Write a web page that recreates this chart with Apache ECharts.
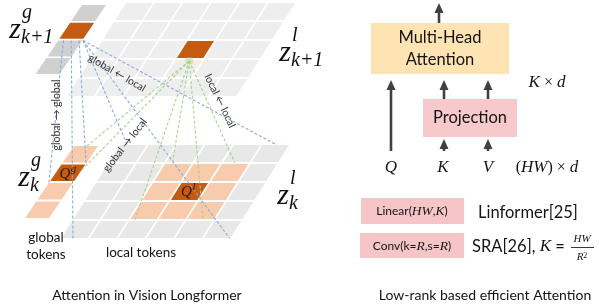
<!DOCTYPE html>
<html>
<head>
<meta charset="utf-8">
<script src="https://cdn.jsdelivr.net/npm/echarts@6/dist/echarts.min.js"></script>
<style>
html,body{margin:0;padding:0;background:#fff;}
#chart{width:599px;height:306px;}
</style>
</head>
<body>
<div id="chart"></div>
<script>
// token grids
const localCols = 6;
const localRows = 5;
const globalCount = 4;
const localQuery = [3, 2];   // Q^l at (col,row)
const localWindow = 1;       // neighbours on each side
const globalQuery = 1;       // Q^g index in the global column

// planes: 0 upper global, 1 upper local, 2 lower global, 3 lower local
// links: [fromPlane, u, v, toPlane, u, v]
const globalLinks = [
    [0, 0.2, 2.0, 2, 0, 2],
    [0, 0.5, 2.0, 3, 0.45, 5],
    [0, 0.8, 2.0, 2, 0.95, 1],
    [0, 0.95, 2.0, 3, 0.25, 0],
    [0, 0.95, 2.0, 3, 5.9, 4.9],
    [0, 0.95, 2.0, 3, 5.5, 0]
];
const localLinks = [
    [1, 3.5, 3.05, 2, 0.5, 0],
    [1, 3.5, 3.05, 2, 0.9, 1.4],
    [1, 3.5, 3.05, 3, 2.18, 3.95],
    [1, 3.5, 3.05, 3, 2.27, 1.05],
    [1, 3.5, 3.05, 3, 4.57, 3.95],
    [1, 3.5, 3.05, 3, 4.43, 0.95]
];

const linkNames = ['global \u2190 local', 'local \u2190 local', 'global \u2192 global', 'global \u2192 local'];
const tokenNames = ['global\ntokens', 'local tokens'];
const captions = ['Attention in Vision Longformer', 'Low-rank based efficient Attention'];
const blockNames = ['Multi-Head\nAttention', 'Projection', 'Linear({m|HW},{m|K})', 'Conv(k={m|R},s={m|R})'];
const inputNames = ['Q', 'K', 'V'];
const shapeNames = ['{m|K} \u00d7 {m|d}', '({m|HW}) \u00d7 {m|d}'];
const methodNames = ['Linformer[25]', 'SRA[26], {m|K} ='];
const zNames = [['g', 'k+1'], ['l', 'k+1'], ['g', 'k'], ['l', 'k']];

// ---- layout ----
const sans = 'Lato, "Open Sans", "DejaVu Sans", sans-serif';
const serif = '"Liberation Serif", "DejaVu Serif", serif';

const planes = [
    {x0: 82, y0: 5, colW: 26, rowH: 17.7, cellW: 24, cellH: 16, slant: 0.67},
    {x0: 126, y0: 3, colW: 28.5, rowH: 19, cellW: 26.5, cellH: 17, slant: 0.63},
    {x0: 74, y0: 146, colW: 26, rowH: 18.5, cellW: 24, cellH: 16.5, slant: 0.68},
    {x0: 120, y0: 145, colW: 28.5, rowH: 19, cellW: 26.5, cellH: 17, slant: 0.63}
];
const cellColors = ['#c55a11', '#f8cbad', '#d0d0d0', '#eeeeee', '#e8e8e8'];

const linkPos = [[117, 73, -30], [220, 101, -64], [57, 115, 90], [125, 145, 52]];
const zPos = [[15, 30], [285, 53], [24, 178], [283, 196]];
const blockBoxes = [[371, 23, 138, 51, '#fde4b2'], [423, 99, 94, 38, '#f8c9cb'], [361, 198, 103, 26, '#f6c5c7'], [360, 233, 104, 25, '#f6c5c7']];
const arrows = [[439, 23, 3], [391, 151, 80], [444, 99, 80], [488, 99, 80], [444, 151, 139], [488, 151, 139]];
const inputX = [391, 443, 488];

function planePoint(p, u, v) {
    const pl = planes[p];
    return [pl.x0 + u * pl.colW - v * pl.rowH * pl.slant, pl.y0 + v * pl.rowH];
}

// cells: [plane, col, row, colorIndex]
const cells = [];
for (let r = 0; r < globalCount; r++) {
    cells.push([0, 0, r, r === globalQuery ? 0 : 2]);
    cells.push([2, 0, r, r === globalQuery ? 0 : 1]);
}
for (let r = 0; r < localRows; r++) {
    for (let c = 0; c < localCols; c++) {
        const isQ = c === localQuery[0] && r === localQuery[1];
        const inWin = Math.abs(c - localQuery[0]) <= localWindow && Math.abs(r - localQuery[1]) <= localWindow;
        cells.push([1, c, r, isQ ? 0 : 3]);
        cells.push([3, c, r, isQ ? 0 : (inWin ? 1 : 4)]);
    }
}

const links = globalLinks.map(l => l.concat([0])).concat(localLinks.map(l => l.concat([1])));

const mathRich = (size) => ({m: {fontFamily: serif, fontStyle: 'italic', fontSize: size}});

// text items
const texts = [];
const addText = (text, x, y, opt) => texts.push(Object.assign({text: text, x: x, y: y}, opt));
addText(captions[0], 147, 295, {size: 14});
addText(captions[1], 485, 295, {size: 14});
addText(tokenNames[0], 46, 246, {size: 13.5, lineHeight: 17});
addText(tokenNames[1], 141, 253, {size: 13.5});
linkNames.forEach((t, i) => addText(t, linkPos[i][0], linkPos[i][1], {size: 10.5, rotate: linkPos[i][2], color: '#333'}));
addText(blockNames[0], 440, 49, {size: 16.5, lineHeight: 22});
addText(blockNames[1], 470, 118, {size: 16.5});
addText(blockNames[2], 412, 211, {size: 12, rich: mathRich(13.5)});
addText(blockNames[3], 412, 246, {size: 12, rich: mathRich(13.5)});
inputNames.forEach((t, i) => addText(t, inputX[i], 168, {size: 17, family: serif, italic: true}));
addText(shapeNames[0], 547, 83, {size: 16, family: serif, rich: mathRich(17)});
addText(shapeNames[1], 547, 168, {size: 16, family: serif, rich: mathRich(17)});
addText(methodNames[0], 478, 213, {size: 16.5, align: 'left'});
addText(methodNames[1], 472, 247, {size: 16.5, align: 'left', rich: {m: {fontFamily: serif, fontStyle: 'italic', fontSize: 17}}});
addText('HW', 582, 239, {size: 11, family: serif, italic: true});
addText('R{s|2}', 582, 257, {size: 11, family: serif, italic: true, rich: {s: {fontFamily: serif, fontSize: 8, verticalAlign: 'top'}}});

const chart = echarts.init(document.getElementById('chart'));

const option = {
    animation: false,
    grid: {left: 0, right: 0, top: 0, bottom: 0},
    xAxis: {type: 'value', min: 0, max: 599, show: false},
    yAxis: {type: 'value', min: 0, max: 306, inverse: true, show: false},
    series: [
        {
            name: 'tokens',
            type: 'custom',
            z: 1,
            data: cells,
            renderItem: (params, api) => {
                const p = api.value(0), c = api.value(1), r = api.value(2);
                const pl = planes[p];
                const du = pl.cellW / pl.colW, dv = pl.cellH / pl.rowH;
                const pts = [[c, r], [c + du, r], [c + du, r + dv], [c, r + dv]]
                    .map(q => api.coord(planePoint(p, q[0], q[1])));
                return {type: 'polygon', shape: {points: pts}, style: {fill: cellColors[api.value(3)]}};
            }
        },
        {
            name: 'attention',
            type: 'custom',
            z: 2,
            data: links,
            renderItem: (params, api) => {
                const a = api.coord(planePoint(api.value(0), api.value(1), api.value(2)));
                const b = api.coord(planePoint(api.value(3), api.value(4), api.value(5)));
                const blue = api.value(6) === 0;
                return {
                    type: 'line',
                    shape: {x1: a[0], y1: a[1], x2: b[0], y2: b[1]},
                    style: {stroke: blue ? '#8eaadb' : '#a9d18e', lineWidth: 1.1, lineDash: [3, 2]}
                };
            }
        },
        {
            name: 'query glow',
            type: 'custom',
            z: 2,
            data: [[localQuery[0], localQuery[1]]],
            renderItem: (params, api) => {
                const c = api.coord(planePoint(1, localQuery[0] + 0.5, localQuery[1] + 1.05));
                return {type: 'circle', shape: {cx: c[0], cy: c[1], r: 4}, style: {fill: 'rgba(169,209,142,0.45)'}};
            }
        },
        {
            name: 'query marks',
            type: 'custom',
            z: 3,
            data: [[1, 3], [3, 2]],
            renderItem: (params, api) => {
                // Q^g and Q^l labels on the query cells
                const isGlobal = params.dataIndex === 0;
                const p = isGlobal ? 2 : 3;
                const c = isGlobal ? 0 : localQuery[0], r = isGlobal ? globalQuery : localQuery[1];
                const pl = planes[p];
                const ctr = api.coord(planePoint(p, c + pl.cellW / pl.colW / 2, r + pl.cellH / pl.rowH / 2));
                return {
                    type: 'group',
                    children: [
                        {type: 'text', x: ctr[0] - 3, y: ctr[1] + 1, style: {text: 'Q', fontFamily: serif, fontStyle: 'italic', fontSize: 15, fill: '#2a1a10', align: 'center', verticalAlign: 'middle'}},
                        {type: 'text', x: ctr[0] + 3, y: ctr[1] - 4, style: {text: isGlobal ? 'g' : 'l', fontFamily: serif, fontStyle: 'italic', fontSize: 11, fill: '#2a1a10', align: 'left', verticalAlign: 'middle'}}
                    ]
                };
            }
        },
        {
            name: 'blocks',
            type: 'custom',
            z: 1,
            data: blockBoxes.map(b => [b[0], b[1]]),
            renderItem: (params, api) => {
                const b = blockBoxes[params.dataIndex];
                const p0 = api.coord([b[0], b[1]]);
                const p1 = api.coord([b[0] + b[2], b[1] + b[3]]);
                return {type: 'rect', shape: {x: p0[0], y: p0[1], width: p1[0] - p0[0], height: p1[1] - p0[1]}, style: {fill: b[4]}};
            }
        },
        {
            name: 'flow',
            type: 'custom',
            z: 2,
            data: arrows.map(a => [a[0], a[1]]),
            renderItem: (params, api) => {
                const a = arrows[params.dataIndex];
                const s = api.coord([a[0], a[1]]);
                const t = api.coord([a[0], a[2]]);
                return {
                    type: 'group',
                    children: [
                        {type: 'line', shape: {x1: s[0], y1: s[1], x2: t[0], y2: t[1] + 8}, style: {stroke: '#404040', lineWidth: 2.6}},
                        {type: 'polygon', shape: {points: [[t[0], t[1]], [t[0] - 4.5, t[1] + 10], [t[0] + 4.5, t[1] + 10]]}, style: {fill: '#404040'}}
                    ]
                };
            }
        },
        {
            name: 'fraction bar',
            type: 'custom',
            z: 2,
            data: [[571, 247]],
            renderItem: (params, api) => {
                const a = api.coord([571, 247.5]);
                const b = api.coord([594, 247.5]);
                return {type: 'line', shape: {x1: a[0], y1: a[1], x2: b[0], y2: b[1]}, style: {stroke: '#222', lineWidth: 0.9}};
            }
        },
        {
            name: 'z labels',
            type: 'custom',
            z: 4,
            data: zPos,
            renderItem: (params, api) => {
                const c = api.coord([api.value(0), api.value(1)]);
                const n = zNames[params.dataIndex];
                const st = (t, size, align) => ({text: t, fontFamily: serif, fontStyle: 'italic', fontSize: size, fill: '#111', align: align, verticalAlign: 'middle'});
                return {
                    type: 'group',
                    children: [
                        {type: 'text', x: c[0], y: c[1], style: st('z', 30, 'center')},
                        {type: 'text', x: c[0] + 7, y: c[1] - 17, style: st(n[0], 20, 'left')},
                        {type: 'text', x: c[0] + 6, y: c[1] + 8, style: st(n[1], 20, 'left')}
                    ]
                };
            }
        },
        {
            name: 'texts',
            type: 'custom',
            z: 5,
            data: texts.map(t => [t.x, t.y]),
            renderItem: (params, api) => {
                const t = texts[params.dataIndex];
                const c = api.coord([t.x, t.y]);
                return {
                    type: 'text',
                    x: c[0], y: c[1],
                    rotation: (t.rotate || 0) * Math.PI / 180,
                    style: {
                        text: t.text,
                        fontFamily: t.family || sans,
                        fontStyle: t.italic ? 'italic' : 'normal',
                        fontSize: t.size,
                        lineHeight: t.lineHeight,
                        fill: t.color || '#141414',
                        align: t.align || 'center',
                        verticalAlign: 'middle',
                        rich: t.rich
                    }
                };
            }
        }
    ]
};

chart.setOption(option);
</script>
</body>
</html>
